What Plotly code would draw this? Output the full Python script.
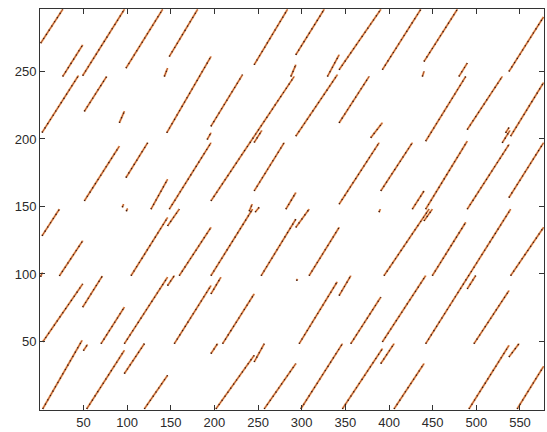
import plotly.graph_objects as go

# Segments (data units): start x/y and end x/y
seg_x0 = [1.1, 26.3, 2.7, 49.2, 51.1, 98.8, 148.4, 142.7, 145.5, 196.1, 245.6, 91.2, 191.8, 196.1, 293.3, 287.6, 329.5, 293.3,
          342.9, 392.4, 342.9, 379.1, 440.1, 438.2, 480.1, 442.0, 489.6, 537.4, 539.3, 533.6,
          51.1, 2.7, 22.5, 98.8, 127.4, 148.4, 245.6, 281.9, 146.4, 104.6, 159.8, 196.1, 239.9, 246.8, 253.6, 293.3, 308.5,
          94.6, 99.2, 245.6, 342.9, 390.6, 529.7, 442.0, 426.7, 388.6, 489.6, 537.4, 394.3, 440.1, 449.6, 442.0, 539.3,
          3.4, 3.4, 49.2, 50.0, 53.8, 70.2, 96.9, 146.4, 154.1, 196.1, 209.4, 196.1, 297.1, 96.9, 119.8, 201.8, 245.6, 257.1,
          299.0, 294.2, 342.9, 356.2, 392.4, 497.3, 489.6, 390.6, 346.6, 405.8, 491.6, 537.4, 546.8, 1.0]
seg_y0 = [271.0, 246.3, 204.8, 246.9, 220.5, 252.5, 261.1, 246.3, 204.6, 209.4, 255.0, 212.0, 199.6, 154.1, 262.4, 246.3, 246.3, 202.1,
          251.3, 251.3, 212.0, 200.9, 257.4, 246.3, 246.3, 198.4, 207.0, 250.0, 202.1, 204.6,
          154.1, 128.3, 98.5, 171.4, 148.0, 148.0, 161.5, 148.0, 135.6, 98.7, 98.7, 98.7, 146.5, 145.8, 98.7, 134.5, 98.7,
          149.4, 146.5, 197.4, 151.7, 161.5, 197.2, 148.0, 148.0, 145.8, 148.0, 156.6, 98.7, 139.3, 98.7, 48.3, 98.7,
          0.0, 49.6, 75.4, 43.2, 0.0, 48.3, 48.3, 91.4, 48.3, 85.2, 48.3, 41.0, 48.3, 26.2, 0.0, 0.0, 34.8, 0.0,
          0.0, 95.0, 84.0, 48.3, 49.6, 48.3, 88.9, 33.6, 0.0, 0.0, 0.0, 38.5, 0.0, 98.0]
seg_x1 = [26.3, 49.2, 44.3, 96.9, 76.6, 140.7, 180.8, 146.4, 196.1, 232.2, 283.7, 96.9, 196.1, 291.4, 325.7, 293.3, 342.9, 340.9,
          390.6, 436.3, 377.2, 392.4, 478.2, 440.1, 489.6, 487.8, 529.7, 577.0, 577.0, 537.4,
          91.2, 22.5, 49.2, 123.6, 146.4, 196.1, 279.9, 293.3, 159.8, 146.4, 196.1, 243.7, 243.3, 251.3, 293.3, 308.5, 342.9,
          96.0, 100.5, 254.3, 388.6, 426.7, 538.5, 489.6, 440.1, 390.0, 537.4, 577.0, 445.8, 449.6, 487.8, 539.3, 577.0,
          48.5, 49.2, 71.7, 54.6, 96.9, 96.9, 146.4, 154.1, 196.1, 207.5, 245.6, 203.6, 340.6, 119.8, 146.4, 245.6, 257.1, 293.3,
          346.6, 295.0, 356.2, 390.6, 442.0, 537.4, 499.2, 405.8, 392.4, 440.1, 537.4, 548.8, 577.0, 3.0]
seg_y1 = [296.0, 269.7, 246.9, 296.0, 246.3, 296.0, 296.0, 252.5, 261.1, 247.6, 296.0, 220.5, 204.6, 246.3, 296.0, 255.0, 262.4, 247.6,
          296.0, 296.0, 246.3, 212.0, 296.0, 250.0, 256.2, 246.3, 246.3, 290.4, 241.7, 208.5,
          194.7, 148.0, 124.6, 197.2, 170.1, 197.2, 197.2, 160.3, 148.0, 141.8, 134.5, 148.0, 151.7, 149.4, 140.6, 148.0, 134.5,
          151.7, 148.5, 206.3, 197.2, 197.2, 206.3, 198.4, 161.5, 148.0, 195.9, 197.2, 148.0, 148.0, 138.2, 148.0, 134.5,
          50.8, 92.6, 98.5, 47.6, 43.4, 75.4, 97.6, 98.7, 91.4, 97.6, 85.2, 48.3, 94.1, 48.3, 24.9, 39.7, 48.3, 33.6,
          48.3, 96.3, 98.7, 82.8, 98.7, 87.7, 98.7, 48.3, 44.6, 33.6, 47.1, 48.3, 31.5, 101.0]

x_ticks = [50, 100, 150, 200, 250, 300, 350, 400, 450, 500, 550]
y_ticks = [50, 100, 150, 200, 250]

xs, ys = [], []
for a, b, c, d in zip(seg_x0, seg_y0, seg_x1, seg_y1):
    xs += [a, c, None]
    ys += [b, d, None]

fig = go.Figure()
# orange halo
fig.add_trace(go.Scatter(x=xs, y=ys, mode="lines",
                         line=dict(color="#f2b070", width=2.2), hoverinfo="skip", showlegend=False))
# red-brown core
fig.add_trace(go.Scatter(x=xs, y=ys, mode="lines",
                         line=dict(color="#a8482a", width=1.0), hoverinfo="skip", showlegend=False))
# dark specks
fig.add_trace(go.Scatter(x=xs, y=ys, mode="lines",
                         line=dict(color="#2a1010", width=1.4, dash="1px,4px"), hoverinfo="skip", showlegend=False))

axis_common = dict(showgrid=False, zeroline=False, showline=True, linecolor="#333333", linewidth=1,
                   mirror="ticks", ticks="inside", ticklen=5, tickcolor="#333333",
                   tickfont=dict(family="Liberation Sans, Arial, sans-serif", size=13, color="#2a2a2a"))

fig.update_layout(
    width=547, height=432,
    margin=dict(l=40, r=2, t=9, b=20),
    paper_bgcolor="white", plot_bgcolor="white",
    xaxis=dict(range=[0.3, 577.5], tickvals=x_ticks, **axis_common),
    yaxis=dict(range=[-0.8, 296.3], tickvals=y_ticks, **axis_common),
)

fig.write_html("out.html")
